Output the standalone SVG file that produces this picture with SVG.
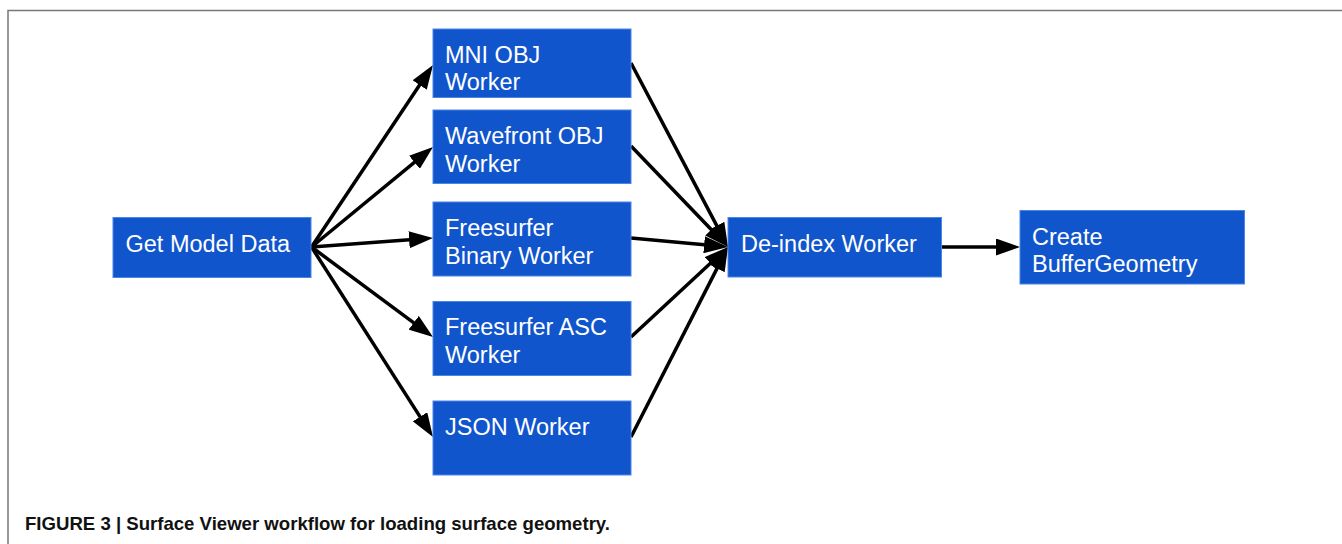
<svg xmlns="http://www.w3.org/2000/svg" width="1342" height="544" viewBox="0 0 1342 544">
<style>
.box{fill:#1155cc;stroke:#4a86e8;stroke-width:1}
.lbl{font-family:"Liberation Sans",Arial,sans-serif;font-size:23.5px;fill:#ffffff}
.cap{font-family:"Liberation Sans",Arial,sans-serif;font-size:19px;font-weight:bold;fill:#111111}
.edge{stroke:#000000;stroke-width:3.5;fill:none;marker-end:url(#ah)}
</style>
<defs>
<marker id="ah" markerUnits="userSpaceOnUse" markerWidth="24" markerHeight="17" refX="14" refY="8.5" orient="auto" viewBox="0 0 24 17">
<path d="M0,0 L24,8.5 L0,17 z" fill="#000000"/>
</marker>
</defs>
<rect width="1342" height="544" fill="#ffffff"/>
<path d="M8,545 V10.5 H1343" fill="none" stroke="#777777" stroke-width="1.5"/>
<g id="connectors">
<line class="edge" x1="311.5" y1="247" x2="427.45" y2="73.32"/>
<line class="edge" x1="311.5" y1="247" x2="425.28" y2="153.35"/>
<line class="edge" x1="311.5" y1="247" x2="423.03" y2="238.74"/>
<line class="edge" x1="311.5" y1="247" x2="424.96" y2="331.05"/>
<line class="edge" x1="311.5" y1="247" x2="427.61" y2="428.57"/>
<line class="edge" x1="631" y1="63" x2="723.34" y2="238.15"/>
<line class="edge" x1="631" y1="146" x2="721.07" y2="239.79"/>
<line class="edge" x1="631" y1="238" x2="718.04" y2="246.08"/>
<line class="edge" x1="631" y1="337" x2="720.67" y2="253.8"/>
<line class="edge" x1="631" y1="437" x2="723.45" y2="255.91"/>
<line class="edge" x1="941" y1="247" x2="1010" y2="247"/>
</g>
<g id="get-model-data">
<rect class="box" x="113" y="217.5" width="198" height="60"/>
<text class="lbl" x="125.5" y="251.7">Get Model Data</text>
</g>
<g id="mni-obj-worker">
<rect class="box" x="433" y="29" width="198" height="68.5"/>
<text class="lbl" x="445" y="62.7">MNI OBJ</text>
<text class="lbl" x="445" y="90">Worker</text>
</g>
<g id="wavefront-obj-worker">
<rect class="box" x="433" y="110" width="198" height="73.5"/>
<text class="lbl" x="445" y="144">Wavefront OBJ</text>
<text class="lbl" x="445" y="171.7">Worker</text>
</g>
<g id="freesurfer-binary-worker">
<rect class="box" x="433" y="202" width="198" height="74"/>
<text class="lbl" x="445" y="236">Freesurfer</text>
<text class="lbl" x="445" y="263.5">Binary Worker</text>
</g>
<g id="freesurfer-asc-worker">
<rect class="box" x="433" y="301.5" width="198" height="74"/>
<text class="lbl" x="445" y="335">Freesurfer ASC</text>
<text class="lbl" x="445" y="363">Worker</text>
</g>
<g id="json-worker">
<rect class="box" x="433" y="401" width="198" height="74"/>
<text class="lbl" x="445" y="435">JSON Worker</text>
</g>
<g id="de-index-worker">
<rect class="box" x="728" y="217.5" width="213.5" height="59.5"/>
<text class="lbl" x="741" y="251.7">De-index Worker</text>
</g>
<g id="create-buffergeometry">
<rect class="box" x="1020" y="210.5" width="224.5" height="73.5"/>
<text class="lbl" x="1032" y="245">Create</text>
<text class="lbl" x="1032" y="271.7">BufferGeometry</text>
</g>
<text class="cap" x="25" y="530" textLength="585" lengthAdjust="spacingAndGlyphs">FIGURE 3 | Surface Viewer workflow for loading surface geometry.</text>
</svg>
